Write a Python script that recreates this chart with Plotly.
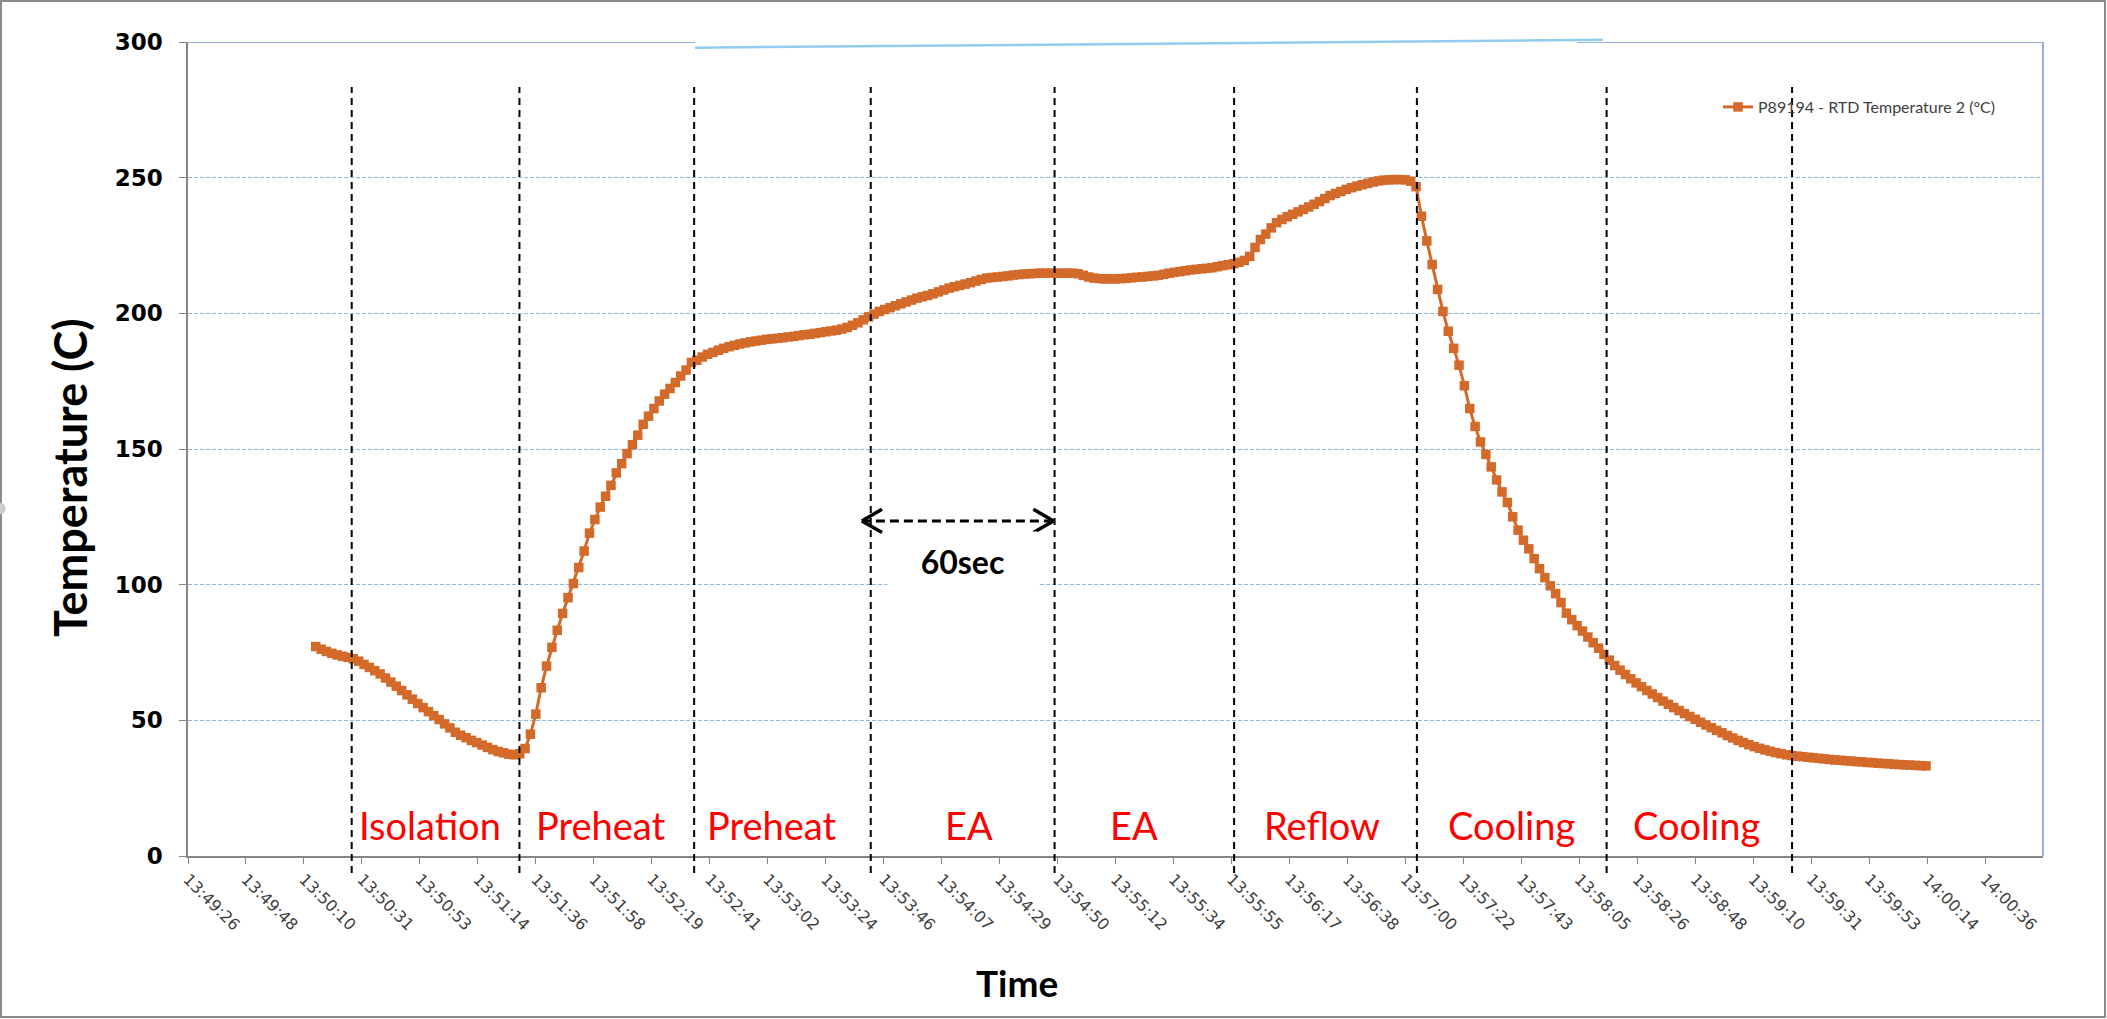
import pandas as pd
import plotly.graph_objects as go

# ---------------------------------------------------------------- data ----
LOG_DATE = "2016-01-01 "          # calendar day of the run (only the clock time is shown)
SERIES_NAME = "P89194 - RTD Temperature 2 (°C)"
SAMPLE_START = "13:50:14"         # first logged sample
SAMPLE_INTERVAL_S = 2             # logger sampling period

TEMPERATURE_C = [
    77.2, 76.2, 75.4, 74.7, 74.1, 73.6, 73.2, 72.7, 71.8, 70.6,
    69.5, 68.3, 67.1, 65.6, 64.1, 62.6, 61.0, 59.4, 57.8, 56.2,
    54.7, 53.2, 51.7, 50.3, 48.7, 47.2, 45.6, 44.5, 43.6, 42.6,
    41.8, 40.9, 40.0, 39.2, 38.5, 38.0, 37.5, 37.3, 37.7, 39.6,
    44.9, 52.3, 62.0, 70.0, 76.9, 83.2, 89.4, 95.2, 100.4, 106.3,
    112.4, 119.0, 124.0, 128.6, 132.6, 136.6, 141.2, 144.6, 148.3, 151.6,
    155.1, 159.1, 162.1, 164.9, 167.7, 170.2, 172.3, 174.5, 176.9, 179.1,
    181.9, 182.7, 183.9, 184.9, 185.6, 186.4, 187.1, 187.7, 188.2, 188.7,
    189.1, 189.5, 189.8, 190.1, 190.4, 190.6, 190.8, 191.0, 191.3, 191.5,
    191.8, 192.1, 192.3, 192.6, 192.9, 193.2, 193.5, 193.8, 194.2, 194.8,
    195.6, 196.5, 197.6, 198.7, 199.7, 200.7, 201.4, 202.1, 202.8, 203.5,
    204.2, 204.9, 205.6, 206.1, 206.6, 207.2, 207.9, 208.6, 209.3, 209.8,
    210.3, 210.8, 211.3, 211.9, 212.5, 213.0, 213.2, 213.4, 213.6, 213.8,
    214.1, 214.3, 214.5, 214.6, 214.7, 214.8, 214.8, 214.8, 214.8, 214.8,
    214.8, 214.8, 214.6, 214.0, 213.4, 213.0, 212.8, 212.7, 212.7, 212.7,
    212.8, 212.9, 213.1, 213.3, 213.4, 213.6, 213.8, 214.0, 214.4, 214.8,
    215.1, 215.4, 215.7, 216.0, 216.2, 216.4, 216.6, 216.8, 217.2, 217.6,
    217.9, 218.3, 218.8, 219.5, 221.0, 224.3, 227.2, 229.2, 231.5, 233.4,
    234.6, 235.6, 236.5, 237.4, 238.3, 239.2, 240.2, 241.2, 242.3, 243.4,
    244.2, 244.9, 245.7, 246.3, 246.9, 247.4, 247.9, 248.4, 248.8, 249.1,
    249.2, 249.3, 249.3, 249.2, 248.7, 246.7, 235.8, 226.7, 218.0, 208.8,
    200.7, 193.4, 187.1, 180.9, 173.3, 164.9, 158.3, 152.6, 148.0, 143.4,
    138.6, 134.2, 130.3, 125.0, 120.1, 116.4, 113.2, 109.6, 105.9, 102.6,
    99.6, 96.7, 93.4, 89.5, 87.1, 84.9, 82.9, 80.7, 78.6, 76.6,
    74.3, 72.2, 70.2, 68.5, 66.9, 65.3, 63.8, 62.4, 61.0, 59.7,
    58.4, 57.1, 55.9, 54.7, 53.6, 52.5, 51.4, 50.4, 49.3, 48.3,
    47.3, 46.3, 45.4, 44.4, 43.5, 42.6, 41.8, 41.0, 40.3, 39.7,
    39.1, 38.6, 38.1, 37.7, 37.3, 37.0, 36.8, 36.6, 36.4, 36.2,
    36.0, 35.8, 35.6, 35.4, 35.3, 35.1, 35.0, 34.8, 34.7, 34.5,
    34.4, 34.2, 34.1, 34.0, 33.8, 33.7, 33.6, 33.5, 33.4, 33.3, 33.2,
]

# time axis: starts at 13:49:26.4 with a major unit of 21.6 s
AXIS_START = "13:49:26.4"
MAJOR_UNIT_S = 21.6
AXIS_UNITS = 32
TICK_LABELS = [
    "13:49:26", "13:49:48", "13:50:10", "13:50:31", "13:50:53", "13:51:14",
    "13:51:36", "13:51:58", "13:52:19", "13:52:41", "13:53:02", "13:53:24",
    "13:53:46", "13:54:07", "13:54:29", "13:54:50", "13:55:12", "13:55:34",
    "13:55:55", "13:56:17", "13:56:38", "13:57:00", "13:57:22", "13:57:43",
    "13:58:05", "13:58:26", "13:58:48", "13:59:10", "13:59:31", "13:59:53",
    "14:00:14", "14:00:36",
]
Y_TICKS = [0, 50, 100, 150, 200, 250, 300]

# profile zones
PHASE_BOUNDARIES = [
    "13:50:27.4", "13:51:29.9", "13:52:35.0", "13:53:40.8", "13:54:49.3",
    "13:55:56.2", "13:57:04.3", "13:58:15.0", "13:59:24.1",
]
PHASE_NAMES = ["Isolation", "Preheat", "Preheat", "EA", "EA", "Reflow", "Cooling", "Cooling"]
PHASE_LABEL_TIMES = [
    "13:50:56.4", "13:52:00.0", "13:53:04.0", "13:54:17.3",
    "13:55:19.0", "13:56:29.0", "13:57:39.6", "13:58:48.4",
]
PHASE_LABEL_LEVEL = 11.3

# 60 s span marker
SPAN_START = "13:53:37.5"
SPAN_END = "13:54:48.9"
SPAN_LEVEL = 123.5
SPAN_TEXT = "60sec"
SPAN_TEXT_TIME = "13:54:15.0"
SPAN_TEXT_LEVEL = 108.7

# ---------------------------------------------------------------- style ---
W, H = 2107, 1019
M_L, M_R, M_T, M_B = 188, 64, 42, 163
PLOT_W = W - M_L - M_R
PLOT_H = H - M_T - M_B

ORANGE = "#D46A2A"
GRID_BLUE = "#8DB9E4"
EDGE_BLUE = "#6E9BD3"
AXIS_GRAY = "#868686"
TEXT_GRAY = "#404040"


def ts(clock):
    return pd.Timestamp(LOG_DATE + clock)


def px_x(px):
    """figure pixel column -> paper fraction"""
    return (px - M_L) / PLOT_W


def px_y(py):
    """figure pixel row -> paper fraction"""
    return (H - M_B - py) / PLOT_H


times = pd.date_range(ts(SAMPLE_START), periods=len(TEMPERATURE_C),
                      freq=f"{SAMPLE_INTERVAL_S}s")
axis_start = ts(AXIS_START)
tick_vals = [axis_start + pd.Timedelta(seconds=MAJOR_UNIT_S * k)
             for k in range(len(TICK_LABELS))]
axis_end = axis_start + pd.Timedelta(seconds=MAJOR_UNIT_S * AXIS_UNITS)

fig = go.Figure()
fig.add_trace(go.Scatter(
    x=times, y=TEMPERATURE_C, name=SERIES_NAME, mode="lines+markers",
    line=dict(color=ORANGE, width=3),
    marker=dict(symbol="square", size=9.5, color=ORANGE, line=dict(width=0)),
    showlegend=True,
))

shapes = []

# zone boundaries
for b in PHASE_BOUNDARIES:
    shapes.append(dict(type="line", xref="x", yref="paper", x0=ts(b), x1=ts(b),
                       y0=px_y(873), y1=px_y(87),
                       line=dict(color="black", width=2, dash="7px,5px"), layer="above"))

# 60 s double-headed arrow
s0, s1 = ts(SPAN_START), ts(SPAN_END)
head_dt = pd.Timedelta(seconds=7.5)
head_dy = 4.3
shapes.append(dict(type="line", xref="x", yref="y", x0=s0, x1=s1, y0=SPAN_LEVEL, y1=SPAN_LEVEL,
                   line=dict(color="black", width=3, dash="9px,5px"), layer="above"))
for tip, arm in ((s0, s0 + head_dt), (s1, s1 - head_dt)):
    for sgn in (1, -1):
        shapes.append(dict(type="line", xref="x", yref="y", x0=tip, x1=arm,
                           y0=SPAN_LEVEL, y1=SPAN_LEVEL + sgn * head_dy,
                           line=dict(color="black", width=3.5), layer="above"))

# plot-area top and right edges
shapes += [
    dict(type="line", xref="paper", yref="y", x0=0, x1=px_x(695), y0=300, y1=300,
         line=dict(color=EDGE_BLUE, width=1.5), layer="above"),
    dict(type="line", xref="paper", yref="y", x0=px_x(695), x1=px_x(1577), y0=300, y1=300,
         line=dict(color="white", width=3), layer="above"),
    dict(type="line", xref="paper", yref="y", x0=px_x(1577), x1=1, y0=300, y1=300,
         line=dict(color=EDGE_BLUE, width=1.5), layer="above"),
    dict(type="line", xref="paper", yref="paper", x0=px_x(695), x1=px_x(1603),
         y0=px_y(47.7), y1=px_y(39.8), line=dict(color="#92CCEE", width=2.5), layer="above"),
    dict(type="line", xref="paper", yref="paper", x0=1, x1=1, y0=0, y1=1,
         line=dict(color=EDGE_BLUE, width=1.5), layer="above"),
]

# chart-area frame
shapes.append(dict(type="rect", xref="paper", yref="paper",
                   x0=px_x(1), x1=px_x(W - 2), y0=px_y(H - 2), y1=px_y(1),
                   line=dict(color="#8C8C8C", width=2), layer="above"))
shapes.append(dict(type="circle", xref="paper", yref="paper",
                   x0=px_x(-5), x1=px_x(5), y0=px_y(514), y1=px_y(503),
                   line=dict(color="#BFBFBF", width=1), fillcolor="#CFCFCF", layer="above"))

annotations = []
for name, t in zip(PHASE_NAMES, PHASE_LABEL_TIMES):
    annotations.append(dict(x=ts(t), y=PHASE_LABEL_LEVEL, xref="x", yref="y", text=name,
                            showarrow=False, xanchor="center", yanchor="middle",
                            font=dict(family="Lato", size=38, color="#FF0000")))

annotations.append(dict(x=ts(SPAN_TEXT_TIME), y=SPAN_TEXT_LEVEL, xref="x", yref="y",
                        text=f"<b>{SPAN_TEXT}</b>", showarrow=False,
                        xanchor="center", yanchor="middle", width=149, height=58,
                        bgcolor="white", borderpad=0,
                        font=dict(family="Lato", size=32, color="black")))

annotations.append(dict(x=px_x(70), y=px_y(478), xref="paper", yref="paper",
                        text="<b>Temperature (C)</b>", textangle=-90, showarrow=False,
                        xanchor="center", yanchor="middle",
                        font=dict(family="Lato", size=45, color="black")))
annotations.append(dict(x=px_x(1017), y=px_y(982), xref="paper", yref="paper",
                        text="<b>Time</b>", showarrow=False,
                        xanchor="center", yanchor="middle",
                        font=dict(family="Lato", size=37, color="black")))

fig.update_layout(
    width=W, height=H, autosize=False,
    margin=dict(l=M_L, r=M_R, t=M_T, b=M_B, pad=0),
    paper_bgcolor="white", plot_bgcolor="white",
    font=dict(family="Lato", color=TEXT_GRAY),
    shapes=shapes, annotations=annotations,
    legend=dict(x=px_x(1718), y=px_y(107), xanchor="left", yanchor="middle",
                bgcolor="rgba(0,0,0,0)", borderwidth=0,
                font=dict(family="Lato", size=16, color=TEXT_GRAY)),
    xaxis=dict(
        type="date", range=[axis_start, axis_end],
        tickmode="array", tickvals=tick_vals, ticktext=TICK_LABELS, tickangle=45,
        tickfont=dict(family="DejaVu Sans", size=16, color=TEXT_GRAY),
        showline=True, linecolor=AXIS_GRAY, linewidth=1.5,
        ticks="outside", ticklen=6, tickcolor=AXIS_GRAY, tickwidth=1,
        showgrid=False, zeroline=False, automargin=False,
    ),
    yaxis=dict(
        range=[0, 300], tickmode="array", tickvals=Y_TICKS,
        tickfont=dict(family="DejaVu Sans", size=23, color="black", weight="bold"),
        showline=True, linecolor=AXIS_GRAY, linewidth=1.5,
        ticks="outside", ticklen=7, tickcolor=AXIS_GRAY, tickwidth=1,
        ticklabelstandoff=12,
        showgrid=True, gridcolor=GRID_BLUE, gridwidth=1, griddash="4px,2px",
        zeroline=False, automargin=False,
    ),
)

fig.write_html("out.html", config={"displayModeBar": False})
